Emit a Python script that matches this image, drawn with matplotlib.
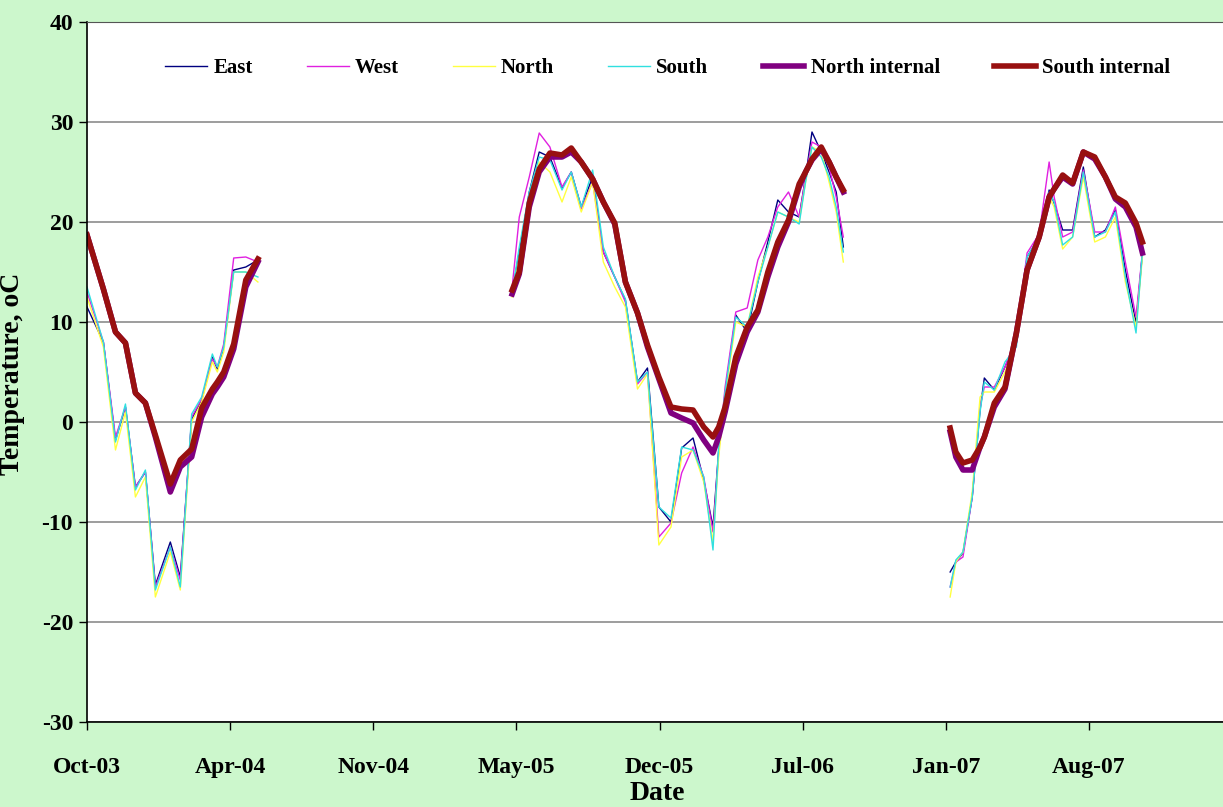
import numpy as np
import matplotlib
matplotlib.use("Agg")
import matplotlib.pyplot as plt
import matplotlib.dates as mdates

# dias desde 2003-10-01 (leitura aproximada do grafico)
start = np.datetime64("2003-10-01")

days_1 = [0, 23, 40, 54, 68, 82, 96, 117, 131, 147, 161, 176, 183, 192, 206, 223, 240]
east_1 = [11.5, 8.0, -1.8, 1.5, -6.5, -5.0, -16.3, -12.0, -15.5, 0.3, 2.2, 6.5, 5.3, 7.5, 15.2, 15.5, 16.2]
west_1 = [13.0, 8.0, -1.5, 1.5, -6.5, -5.0, -16.5, -12.5, -15.8, 0.5, 2.3, 6.3, 5.5, 7.8, 16.4, 16.5, 16.0]
north_1 = [12.5, 7.5, -2.8, 1.0, -7.5, -5.5, -17.5, -13.0, -16.8, 0.0, 2.0, 6.0, 5.0, 7.0, 15.0, 15.0, 14.0]
south_1 = [13.5, 8.0, -2.0, 1.8, -6.8, -4.8, -16.8, -12.5, -16.5, 0.8, 2.5, 6.8, 5.5, 7.5, 15.0, 15.0, 14.5]
nint_1 = [18.7, 13.3, 9.0, 7.9, 2.9, 1.9, -1.5, -7.0, -4.5, -3.5, 0.5, 2.8, 3.5, 4.5, 7.3, 13.5, 16.0]
sint_1 = [18.7, 13.3, 9.0, 7.9, 2.9, 1.9, -1.3, -6.2, -3.8, -2.7, 1.4, 3.3, 4.0, 5.0, 7.8, 14.2, 16.3]

days_2 = [597, 607, 621, 635, 650, 667, 680, 694, 710, 725, 741, 756, 773, 787, 803,
          820, 835, 851, 866, 879, 887, 896, 911, 927, 942, 956, 970, 985, 1000, 1009,
          1018, 1031, 1042, 1052, 1062]
east_2 = [12.9, 17.0, 23.0, 27.0, 26.5, 23.4, 25.0, 21.5, 24.5, 17.0, 14.5, 12.2, 4.0, 5.4, -8.5,
          -10.0, -2.6, -1.6, -5.8, -10.5, -2.8, 2.9, 10.7, 9.0, 14.0, 18.0, 22.2, 21.0, 20.5, 24.5,
          29.0, 27.0, 25.0, 23.0, 17.5]
west_2 = [13.5, 20.5, 24.5, 28.9, 27.5, 23.5, 25.0, 21.3, 24.0, 17.0, 14.5, 12.0, 3.8, 5.0, -11.5,
          -10.1, -5.1, -2.5, -5.5, -11.0, -3.0, 3.5, 11.0, 11.4, 16.2, 18.5, 21.5, 23.0, 20.5, 24.5,
          28.0, 27.5, 25.5, 22.5, 18.5]
north_2 = [12.5, 16.5, 22.0, 26.0, 25.0, 22.0, 24.5, 21.0, 24.0, 16.0, 13.5, 11.5, 3.3, 4.8, -12.3,
           -10.5, -3.5, -2.8, -6.0, -12.0, -3.5, 2.5, 10.0, 9.5, 14.5, 17.5, 21.0, 20.5, 20.0, 24.0,
           27.5, 27.0, 24.0, 21.0, 16.0]
south_2 = [13.0, 17.5, 23.0, 26.5, 26.2, 23.2, 25.0, 21.5, 25.2, 17.5, 14.5, 12.3, 4.0, 5.0, -8.5,
           -9.6, -2.5, -2.8, -5.5, -12.8, -2.5, 3.0, 10.5, 9.5, 14.0, 17.5, 21.0, 20.5, 19.8, 24.0,
           27.5, 26.5, 24.5, 21.5, 17.0]
nint_2 = [12.8, 14.8, 21.5, 25.0, 26.5, 26.5, 27.0, 26.0, 24.3, 22.0, 19.8, 14.0, 10.9, 7.5, 4.3,
          0.9, 0.4, -0.1, -1.8, -3.1, -1.5, 1.0, 5.8, 9.0, 11.0, 14.5, 17.5, 20.0, 23.5, 25.0,
          26.2, 27.3, 26.0, 24.5, 23.0]
sint_2 = [13.2, 15.0, 21.9, 25.3, 26.9, 26.7, 27.4, 26.0, 24.3, 22.0, 19.9, 14.0, 10.9, 7.7, 4.5,
          1.5, 1.3, 1.2, -0.5, -1.5, -0.5, 1.5, 6.5, 9.5, 11.2, 15.0, 18.0, 20.2, 23.8, 25.0,
          26.3, 27.5, 26.0, 24.5, 23.2]

days_3 = [1212, 1220, 1230, 1243, 1254, 1260, 1274, 1289, 1305, 1320, 1337,
          1351, 1358, 1370, 1384, 1399, 1415, 1430, 1444, 1458, 1473, 1482]
east_3 = [-15.0, -14.0, -13.1, -7.5, 1.2, 4.4, 3.2, 5.5, 8.2, 16.5, 18.5,
          23.2, 21.9, 19.2, 19.2, 25.5, 18.5, 19.2, 21.2, 15.2, 9.9, 16.9]
west_3 = [-16.5, -14.0, -13.5, -7.5, 1.5, 3.5, 3.5, 5.5, 8.5, 16.9, 18.8,
          26.0, 22.5, 18.5, 19.0, 25.2, 19.0, 19.0, 21.5, 16.0, 10.5, 17.0]
north_3 = [-17.5, -14.0, -13.0, -7.0, 2.5, 3.0, 3.0, 5.0, 8.0, 16.0, 18.0,
           22.5, 21.5, 17.3, 18.5, 24.5, 18.0, 18.5, 20.5, 14.0, 9.5, 16.5]
south_3 = [-16.5, -13.8, -13.0, -7.5, 1.0, 4.0, 3.2, 6.0, 7.5, 16.5, 18.5,
           23.0, 22.0, 17.7, 18.5, 25.0, 18.5, 19.0, 21.0, 14.5, 8.9, 17.0]
nint_3 = [-1.0, -3.5, -4.8, -4.8, -2.5, -1.5, 1.5, 3.3, 8.9, 15.2, 18.5,
          22.5, 23.3, 24.5, 23.8, 27.0, 26.3, 24.5, 22.3, 21.5, 19.5, 16.9]
sint_3 = [-0.6, -3.0, -4.1, -3.8, -2.5, -1.5, 1.9, 3.5, 8.9, 15.2, 18.5,
          22.5, 23.3, 24.7, 23.9, 27.0, 26.5, 24.5, 22.5, 21.9, 19.9, 18.0]

series = {
    "East": (east_1, east_2, east_3),
    "West": (west_1, west_2, west_3),
    "North": (north_1, north_2, north_3),
    "South": (south_1, south_2, south_3),
    "North internal": (nint_1, nint_2, nint_3),
    "South internal": (sint_1, sint_2, sint_3),
}
colors = {
    "East": "#000080",
    "West": "#e020e0",
    "North": "#ffff40",
    "South": "#30e0e0",
    "North internal": "#800080",
    "South internal": "#981010",
}
widths = {"East": 1.0, "West": 1.0, "North": 1.0, "South": 1.0,
          "North internal": 4.0, "South internal": 4.0}

tick_days = [0, 201, 402, 603, 804, 1005, 1206, 1407]

plt.rcParams["font.family"] = "Liberation Serif"
plt.rcParams["font.weight"] = "bold"
plt.rcParams["axes.unicode_minus"] = False

bg = "#ccf7cc"
fig = plt.figure(figsize=(12.23, 8.07), dpi=100, facecolor=bg)
ax = fig.add_axes([87 / 1223, 85 / 807, 1.004 - 87 / 1223, 700 / 807])
ax.set_facecolor("white")

seg_days = (days_1, days_2, days_3)
for name, segs in series.items():
    first = True
    for d, v in zip(seg_days, segs):
        x = start + np.array(d).astype("timedelta64[D]")
        ax.plot(x, v, color=colors[name], lw=widths[name],
                label=name if first else None, solid_joinstyle="round")
        first = False

ax.set_ylim(-30, 40)
ax.set_yticks(range(-30, 41, 10))
ax.set_xlim(start, start + np.timedelta64(1602, "D"))
ax.set_xticks(start + np.array(tick_days).astype("timedelta64[D]"))
ax.xaxis.set_major_formatter(mdates.DateFormatter("%b-%y"))
ax.grid(axis="y", color="#8c8c8c", lw=1.2)
ax.set_axisbelow(True)

ax.spines["right"].set_visible(False)
ax.spines["top"].set_color("#555555")
ax.spines["left"].set_color("black")
ax.spines["bottom"].set_color("black")
ax.spines["left"].set_linewidth(1.2)
ax.spines["bottom"].set_linewidth(1.2)
ax.tick_params(axis="both", labelsize=17, length=6, width=1.0, direction="out")
ax.tick_params(axis="x", pad=19)
ax.tick_params(axis="y", pad=4)
for t in ax.get_xticklabels() + ax.get_yticklabels():
    t.set_fontweight("bold")

ax.set_xlabel("Date", fontsize=20, fontweight="bold", va="center")
ax.xaxis.set_label_coords(0.5, -71 / 700)
ax.set_ylabel("Temperature, oC", fontsize=20, fontweight="bold")
ax.yaxis.set_label_coords(-62 / 1136, 0.497)

leg = ax.legend(loc="upper center", bbox_to_anchor=(0.509, 0.975), ncol=6, frameon=False,
                fontsize=15, handlelength=2.0, handletextpad=0.3, columnspacing=2.6)
for t in leg.get_texts():
    t.set_fontweight("bold")

fig.savefig("out.png", dpi=100, facecolor=bg)
